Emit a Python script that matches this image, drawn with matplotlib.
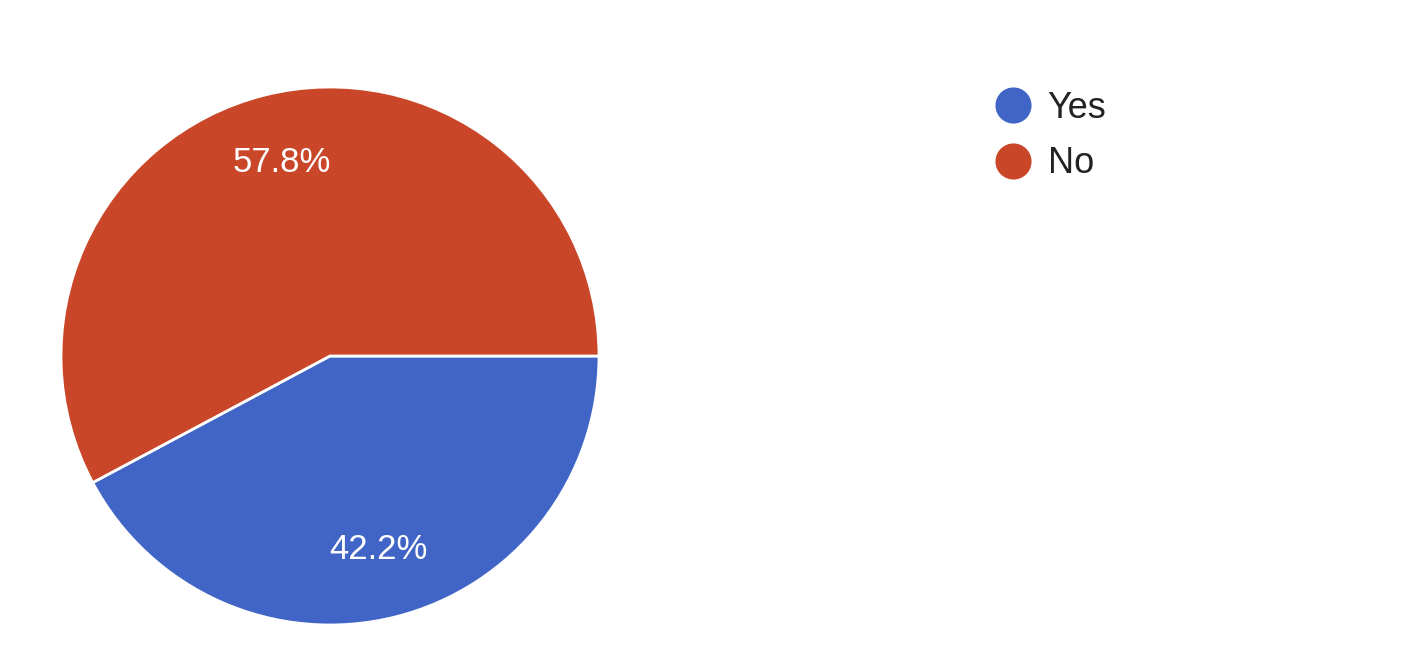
import matplotlib.pyplot as plt
from matplotlib.lines import Line2D

# survey answers
labels = ['Yes', 'No']
shares = [42.2, 57.8]
colors = ['#4065c6', '#c94628']

fig = plt.figure(figsize=(14.16, 6.64), dpi=100)
ax = fig.add_axes([61 / 1416, 39 / 664, 538 / 1416, 538 / 664])

wedges, texts, autotexts = ax.pie(
    shares, colors=colors, startangle=0, counterclock=False,
    autopct='%.1f%%', pctdistance=0.74,
    wedgeprops=dict(edgecolor='white', linewidth=2),
    textprops=dict(color='white', fontsize=25, family='Liberation Sans'))
ax.set_xlim(-1.0, 1.0)
ax.set_ylim(-1.0, 1.0)
ax.set_aspect('equal')

# legend with round markers
handles = [Line2D([], [], marker='o', linestyle='none', markersize=25,
                  markerfacecolor=c, markeredgecolor=c) for c in colors]
fig.legend(handles, labels, loc='upper left', bbox_to_anchor=(953 / 1416, 1 - 58 / 664),
           frameon=False, prop=dict(size=26, family='Liberation Sans'),
           handletextpad=0.22, labelspacing=0.58, handlelength=1.5, labelcolor='#222222')

fig.savefig('out.png', dpi=100)
